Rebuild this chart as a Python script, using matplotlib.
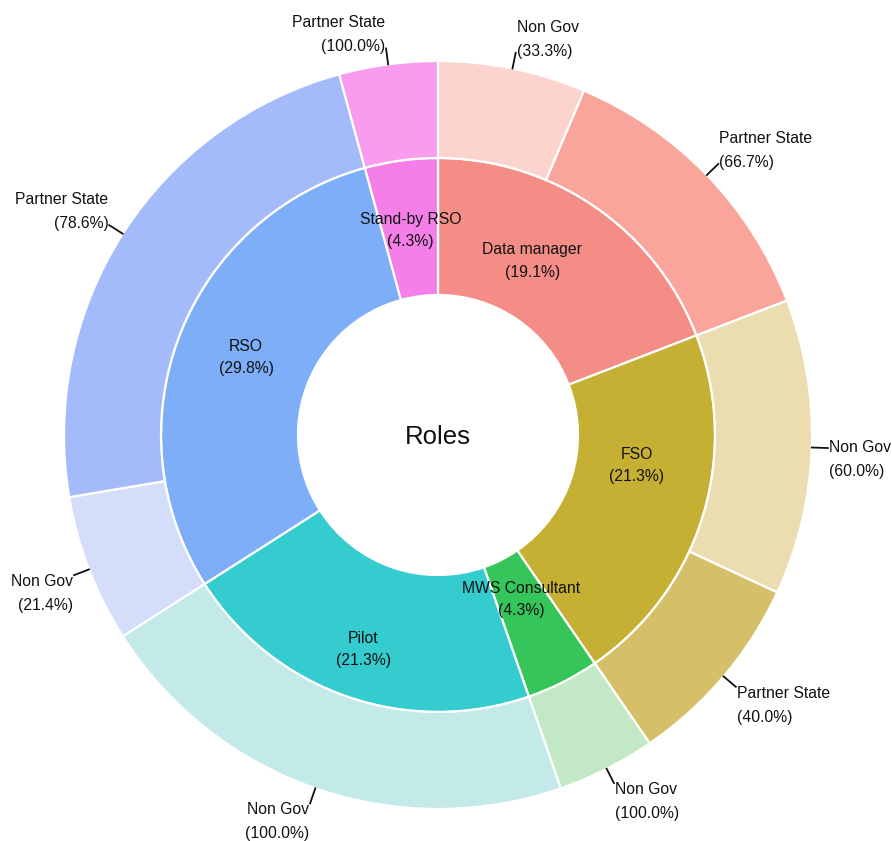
import numpy as np
import matplotlib.pyplot as plt

plt.rcParams['font.family'] = ['Liberation Sans', 'DejaVu Sans']

# Datos
roles = ['Data manager', 'FSO', 'MWS Consultant', 'Pilot', 'RSO', 'Stand-by RSO']
role_counts = [9, 10, 2, 10, 14, 2]
role_colors = ['#F58D87', '#C6B034', '#35C55B', '#35CCCF', '#7EAEF8', '#F47FE8']

sub_parent = [0, 0, 1, 1, 2, 3, 4, 4, 5]
sub_groups = ['Non Gov', 'Partner State', 'Non Gov', 'Partner State', 'Non Gov',
              'Non Gov', 'Non Gov', 'Partner State', 'Partner State']
sub_counts = [3, 6, 6, 4, 2, 10, 3, 11, 2]
sub_colors = ['#FDD3CD', '#F9A59C', '#ECDDB1', '#D5BF68', '#C3E8C5',
              '#C3E9E9', '#D4DEFB', '#A3BBFB', '#F79CEF']

# nudges for inner labels (angle deg, radius px)
label_dang = [-6, -8.6, 0, 0, 1, 0]
label_r = [198, 201, 184, 227, 207, 206]

# Geometría (píxeles)
W, H = 892, 841
cx, cy = 438, H - 435
R_out, R_mid, R_in = 374, 277, 140

fig = plt.figure(figsize=(W / 100, H / 100), dpi=100)
ax = fig.add_axes([0, 0, 1, 1])

wp = dict(edgecolor='white', linewidth=1.6)
ax.pie(role_counts, radius=R_mid, center=(cx, cy), colors=role_colors,
       startangle=90, counterclock=False,
       wedgeprops=dict(width=R_mid - R_in, **wp))
ax.pie(sub_counts, radius=R_out, center=(cx, cy), colors=sub_colors,
       startangle=90, counterclock=False,
       wedgeprops=dict(width=R_out - R_mid, **wp))

total = sum(role_counts)

# Etiquetas del anillo interior
cum = np.cumsum([0] + role_counts)
for i, name in enumerate(roles):
    mid = (cum[i] + cum[i + 1]) / 2 / total * 360 + label_dang[i]
    a = np.radians(mid)
    x = cx + label_r[i] * np.sin(a)
    y = cy + label_r[i] * np.cos(a)
    pct = role_counts[i] / total * 100
    ax.text(x, y, f'{name}\n({pct:.1f}%)', ha='center', va='center',
            fontsize=11.3, linespacing=1.6, color='#111111')

# Etiquetas del anillo exterior
cum = np.cumsum([0] + sub_counts)
for j, grp in enumerate(sub_groups):
    mid = (cum[j] + cum[j + 1]) / 2 / total * 360
    a = np.radians(mid)
    s, c = np.sin(a), np.cos(a)
    x0, y0 = cx + R_out * s, cy + R_out * c
    x1, y1 = cx + (R_out + 16) * s, cy + (R_out + 16) * c
    ax.plot([x0, x1], [y0, y1], color='#111111', lw=1.3)
    ha = 'left' if s > 0 else 'right'
    dx = 1 if s > 0 else -1
    if c > 0.2:
        va, ty = 'bottom', y1 - 6
    elif c < -0.2:
        va, ty = 'top', y1 + 1
    else:
        va, ty = 'top', y1 + 8
    pct = sub_counts[j] / role_counts[sub_parent[j]] * 100
    ax.text(x1 + dx, ty, f'{grp}\n({pct:.1f}%)', ha=ha, va=va,
            fontsize=11.3, linespacing=1.75, color='#111111')

ax.text(cx, cy - 2, 'Roles', ha='center', va='center', fontsize=18.5,
        color='#111111')

ax.set_xlim(0, W)
ax.set_ylim(0, H)
ax.set_aspect('equal')
ax.axis('off')

fig.savefig('out.png', dpi=100, facecolor='white')
